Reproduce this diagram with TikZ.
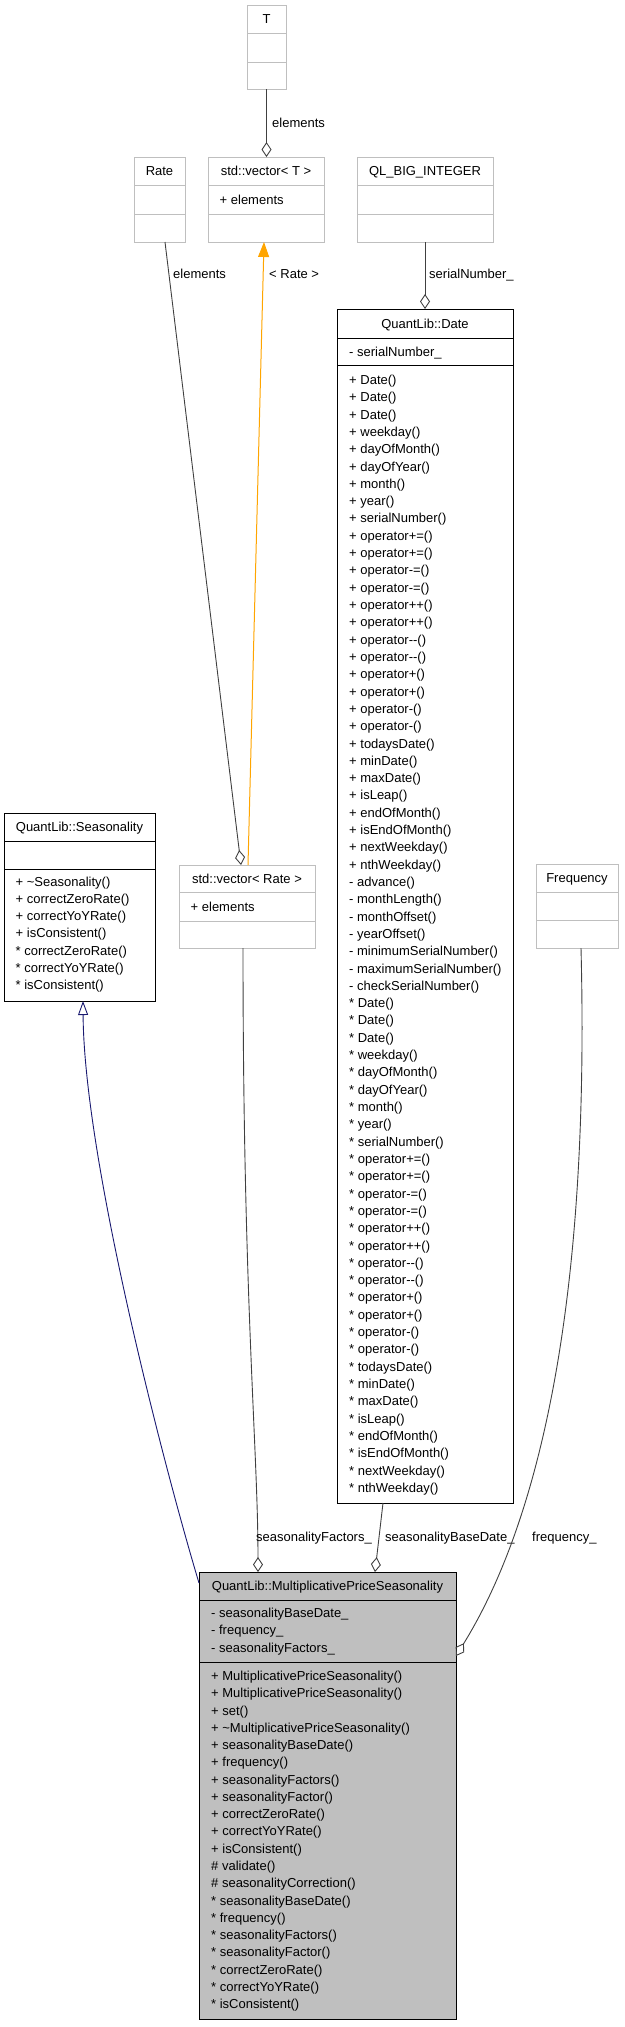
\documentclass[tikz,border=0pt]{standalone}
\usepackage{fontspec}
\setmainfont{Liberation Sans}
\usetikzlibrary{arrows.meta}

\definecolor{grey75}{HTML}{BFBFBF}
\definecolor{grey25}{HTML}{404040}
\definecolor{inhblue}{HTML}{191970}
\definecolor{tplorange}{HTML}{FFA500}

\tikzset{
    extbox/.style={draw=grey75, line width=1pt, inner sep=0pt, outer sep=0pt},
    docbox/.style={draw=black, line width=1pt, inner sep=0pt, outer sep=0pt},
    member/.style={anchor=base west, inner sep=0pt, font=\fontsize{13}{15}\selectfont},
    ctitle/.style={anchor=base, inner sep=0pt, font=\fontsize{13}{15}\selectfont},
    elabel/.style={anchor=base west, inner sep=0pt, font=\fontsize{13}{15}\selectfont},
    agg/.style={grey25, line width=0.9pt, -{Diamond[open, length=15pt, width=10pt]}},
    inh/.style={inhblue, line width=0.9pt, -{Triangle[open, length=14pt, width=10pt]}},
    tpl/.style={tplorange, line width=1pt, -{Triangle[length=15pt, width=11pt]}}
}

\begin{document}
\begin{tikzpicture}[x=1pt, y=-1pt]
    \useasboundingbox (0,0) rectangle (624,2027);

    % template parameter and vector
    \node[extbox, minimum width=39pt, minimum height=84pt] (T) at (266.5,47) {};
    \draw[grey75, line width=1pt] (T.west |- 0,33) -- (T.east |- 0,33);
    \draw[grey75, line width=1pt] (T.west |- 0,62) -- (T.east |- 0,62);
    \node[ctitle] (T-t) at (266.5,23.5) {T};

    \node[extbox, minimum width=51pt, minimum height=85pt] (Rate) at (159.5,199.5) {};
    \draw[grey75, line width=1pt] (Rate.west |- 0,185) -- (Rate.east |- 0,185);
    \draw[grey75, line width=1pt] (Rate.west |- 0,214) -- (Rate.east |- 0,214);
    \node[ctitle] (Rate-t) at (159.5,175.5) {Rate};

    \node[extbox, minimum width=116pt, minimum height=85pt] (vecT) at (266,199.5) {};
    \draw[grey75, line width=1pt] (vecT.west |- 0,185) -- (vecT.east |- 0,185);
    \draw[grey75, line width=1pt] (vecT.west |- 0,214) -- (vecT.east |- 0,214);
    \node[ctitle] (vecT-t) at (266,175.5) {std::vector< T >};
    \node[member] (vecT-a) at (219.5,204) {+ elements};

    \node[extbox, minimum width=136pt, minimum height=85pt] (QL) at (425,199.5) {};
    \draw[grey75, line width=1pt] (QL.west |- 0,185) -- (QL.east |- 0,185);
    \draw[grey75, line width=1pt] (QL.west |- 0,214) -- (QL.east |- 0,214);
    \node[ctitle] (QL-t) at (425,175.5) {QL\_BIG\_INTEGER};

    % QuantLib::Date
    \node[docbox, minimum width=176pt, minimum height=1194pt] (Date) at (425,906) {};
    \draw[line width=1pt] (Date.west |- 0,338) -- (Date.east |- 0,338);
    \draw[line width=1pt] (Date.west |- 0,365) -- (Date.east |- 0,365);
    \node[ctitle] (Date-t) at (425,328) {QuantLib::Date};
    \node[member] (Date-a) at (349,356) {- serialNumber\_};
    \foreach \m [count=\i from 0] in {+ Date(), + Date(), + Date(), + weekday(), + dayOfMonth(), + dayOfYear(),
        + month(), + year(), + serialNumber(), + operator+=(), + operator+=(), + operator-=(), + operator-=(),
        + operator++(), + operator++(), + operator-{}-(), + operator-{}-(), + operator+(), + operator+(),
        + operator-(), + operator-(), + todaysDate(), + minDate(), + maxDate(), + isLeap(), + endOfMonth(),
        + isEndOfMonth(), + nextWeekday(), + nthWeekday(), - advance(), - monthLength(), - monthOffset(),
        - yearOffset(), - minimumSerialNumber(), - maximumSerialNumber(), - checkSerialNumber(),
        * Date(), * Date(), * Date(), * weekday(), * dayOfMonth(), * dayOfYear(), * month(), * year(),
        * serialNumber(), * operator+=(), * operator+=(), * operator-=(), * operator-=(), * operator++(),
        * operator++(), * operator-{}-(), * operator-{}-(), * operator+(), * operator+(), * operator-(),
        * operator-(), * todaysDate(), * minDate(), * maxDate(), * isLeap(), * endOfMonth(),
        * isEndOfMonth(), * nextWeekday(), * nthWeekday()}
        \node[member] (Date-m\i) at (349,384.5+17.31*\i) {\m};

    % QuantLib::Seasonality
    \node[docbox, minimum width=151pt, minimum height=188pt] (Seas) at (79.5,907) {};
    \draw[line width=1pt] (Seas.west |- 0,841) -- (Seas.east |- 0,841);
    \draw[line width=1pt] (Seas.west |- 0,869) -- (Seas.east |- 0,869);
    \node[ctitle] (Seas-t) at (79.5,831.5) {QuantLib::Seasonality};
    \foreach \m [count=\i from 0] in {+ \textasciitilde Seasonality(), + correctZeroRate(), + correctYoYRate(),
        + isConsistent(), * correctZeroRate(), * correctYoYRate(), * isConsistent()}
        \node[member] (Seas-m\i) at (15.5,886+17.3*\i) {\m};

    % std::vector< Rate >
    \node[extbox, minimum width=136pt, minimum height=83pt] (vecR) at (247,906.5) {};
    \draw[grey75, line width=1pt] (vecR.west |- 0,892) -- (vecR.east |- 0,892);
    \draw[grey75, line width=1pt] (vecR.west |- 0,921) -- (vecR.east |- 0,921);
    \node[ctitle] (vecR-t) at (247,883) {std::vector< Rate >};
    \node[member] (vecR-a) at (190.5,911) {+ elements};

    % Frequency
    \node[extbox, minimum width=82pt, minimum height=84pt] (Freq) at (577,906) {};
    \draw[grey75, line width=1pt] (Freq.west |- 0,892) -- (Freq.east |- 0,892);
    \draw[grey75, line width=1pt] (Freq.west |- 0,920) -- (Freq.east |- 0,920);
    \node[ctitle] (Freq-t) at (577,882.5) {Frequency};

    % QuantLib::MultiplicativePriceSeasonality
    \node[docbox, fill=grey75, minimum width=257pt, minimum height=447pt] (MPS) at (327.5,1795.5) {};
    \draw[line width=1pt] (MPS.west |- 0,1600) -- (MPS.east |- 0,1600);
    \draw[line width=1pt] (MPS.west |- 0,1662) -- (MPS.east |- 0,1662);
    \node[ctitle] (MPS-t) at (327.5,1590.5) {QuantLib::MultiplicativePriceSeasonality};
    \foreach \m [count=\i from 0] in {- seasonalityBaseDate\_, - frequency\_, - seasonalityFactors\_}
        \node[member] (MPS-a\i) at (211,1617.5+17.3*\i) {\m};
    \foreach \m [count=\i from 0] in {+ MultiplicativePriceSeasonality(), + MultiplicativePriceSeasonality(),
        + set(), + \textasciitilde MultiplicativePriceSeasonality(), + seasonalityBaseDate(), + frequency(),
        + seasonalityFactors(), + seasonalityFactor(), + correctZeroRate(), + correctYoYRate(),
        + isConsistent(), \# validate(), \# seasonalityCorrection(), * seasonalityBaseDate(), * frequency(),
        * seasonalityFactors(), * seasonalityFactor(), * correctZeroRate(), * correctYoYRate(),
        * isConsistent()}
        \node[member] (MPS-m\i) at (211,1680.5+17.27*\i) {\m};

    % connectors
    \draw[agg] (T.south) -- (T.south |- vecT.north);
    \node[elabel] (l-elemT) at (272,127.5) {elements};
    \draw[agg] ([xshift=5.5pt]Rate.south) -- ([xshift=-6pt]vecR.north);
    \node[elabel] (l-elemR) at (173,278.5) {elements};
    \draw[tpl] ([xshift=1pt]vecR.north) -- ([xshift=-2pt]vecT.south);
    \node[elabel] (l-tpl) at (269,278.5) {< Rate >};
    \draw[agg] (QL.south) -- (QL.south |- Date.north);
    \node[elabel] (l-serial) at (429,278.5) {serialNumber\_};

    \draw[inh] ([yshift=-11pt]MPS.north west) .. controls (165,1470) and (84,1160) .. ([xshift=3.5pt]Seas.south);
    \draw[agg] ([xshift=-4pt]vecR.south) .. controls (243,1300) and (258,1450) .. ([xshift=-69.5pt]MPS.north);
    \node[elabel] (l-factors) at (256,1541.5) {seasonalityFactors\_};
    \draw[agg] ([xshift=-42pt]Date.south) -- ([xshift=47.5pt]MPS.north);
    \node[elabel] (l-base) at (385,1541.5) {seasonalityBaseDate\_};
    \draw[agg] ([xshift=4pt]Freq.south) .. controls (590,1300) and (540,1520) .. ([yshift=-84pt]MPS.north east);
    \node[elabel] (l-freq) at (532,1541.5) {frequency\_};
\end{tikzpicture}
\end{document}
